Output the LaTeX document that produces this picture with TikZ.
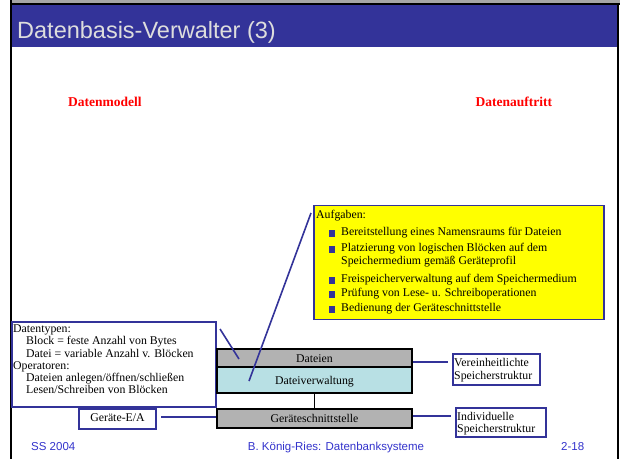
\documentclass[tikz,border=0pt]{standalone}
\usepackage{fontspec}
\setmainfont{Liberation Serif}
\newfontfamily\arialfont{Liberation Sans}

\definecolor{barblue}{RGB}{51,51,153}
\definecolor{titletext}{RGB}{221,221,221}
\definecolor{footblue}{RGB}{51,51,204}
\definecolor{layergray}{RGB}{178,178,178}
\definecolor{layercyan}{RGB}{184,224,228}
\definecolor{notefill}{RGB}{255,255,0}

\begin{document}
\begin{tikzpicture}[x=1pt,y=-1pt]
\tikzset{
  body/.style={font=\fontsize{11.8}{12}\selectfont, inner sep=0pt,
               text height=8pt, text depth=2.5pt},
  line/.style={body, anchor=west},
  bluebox/.style={draw=barblue, line width=1.8pt, rectangle, inner sep=0pt},
  layer/.style={body, draw=black, line width=1.8pt, rectangle,
                minimum width=195pt, text height=9.5pt, text depth=1pt},
  link/.style={draw=barblue, line width=1.6pt},
  bullet/.style={fill=barblue, minimum size=6.5pt, inner sep=0pt, rectangle},
  foot/.style={font=\arialfont\fontsize{11.5}{13}\selectfont, text=footblue,
               inner sep=0pt, text height=8.5pt, text depth=2pt},
  heading/.style={font=\bfseries\fontsize{13.5}{16}\selectfont, text=red,
                  inner sep=0pt, anchor=base west},
}
\useasboundingbox (0,0) rectangle (620,459);
\fill[white] (0,0) rectangle (620,459);

% slide frame and title bar
\fill[gray!70] (10,0) rectangle (620,2.5);
\fill[black] (10,2.5) rectangle (620,5);
\fill[black] (10,0) rectangle (12,459);
\fill[black] (617,5) rectangle (619,459);
\fill[barblue] (12,5) rectangle (617,47);
\node[anchor=base west, inner sep=0pt, text=titletext,
      font=\arialfont\fontsize{23.5}{28}\selectfont] (title) at (17,38)
      {Datenbasis-Verwalter (3)};

% column headings
\node[heading] (modell) at (68,106) {Datenmodell};
\node[heading] (auftritt) at (475.5,106) {Datenauftritt};

% task list
\node[bluebox, fill=notefill, minimum width=290pt, minimum height=114pt]
     (aufgaben) at (459,262.5) {};
\node[line] (auf0) at (316,216) {Aufgaben:};
\node[bullet] (b1) at (332,233.5) {};
\node[line] (auf1) at (341,233) {Bereitstellung eines Namensraums für Dateien};
\node[bullet] (b2) at (332,249.5) {};
\node[line] (auf2) at (341,249) {Platzierung von logischen Blöcken auf dem};
\node[line] (auf2b) at (341,262) {Speichermedium gemäß Geräteprofil};
\node[bullet] (b3) at (332,280.5) {};
\node[line] (auf3) at (341,280) {Freispeicherverwaltung auf dem Speichermedium};
\node[bullet] (b4) at (332,294.5) {};
\node[line] (auf4) at (341,294) {Prüfung von Lese- u. Schreiboperationen};
\node[bullet] (b5) at (332,309.5) {};
\node[line] (auf5) at (341,309) {Bedienung der Geräteschnittstelle};

% data model description
\node[bluebox, minimum width=204pt, minimum height=85pt] (typen) at (114,364.5) {};
\node[line] (t1) at (13,330) {Datentypen:};
\node[line] (t2) at (26,342) {Block = feste Anzahl von Bytes};
\node[line] (t3) at (26,355) {Datei = variable Anzahl v. Blöcken};
\node[line] (t4) at (13,367) {Operatoren:};
\node[line] (t5) at (26,379) {Dateien anlegen/öffnen/schließen};
\node[line] (t6) at (26,391) {Lesen/Schreiben von Blöcken};

\node[bluebox, body, minimum width=77pt, minimum height=20pt] (ea) at (117.5,419)
     {Geräte-E/A};

% layers
\node[layer, fill=layergray, minimum height=18pt] (dateien) at (314.5,358) {Dateien};
\node[layer, fill=layercyan, minimum height=26pt] (verwaltung) at (314.5,380)
     {Dateiverwaltung};
\node[layer, fill=layergray, minimum height=19pt] (schnitt) at (314.5,418.5)
     {Geräteschnittstelle};
\draw[black, line width=1.6pt] (verwaltung.south) -- (schnitt.north);

% data appearance
\node[bluebox, minimum width=87pt, minimum height=31pt] (vereinh) at (496.5,369.5) {};
\node[line] (v1) at (454,364) {Vereinheitlichte};
\node[line] (v2) at (454,377) {Speicherstruktur};
\node[bluebox, minimum width=90pt, minimum height=29pt] (indiv) at (501,422.5) {};
\node[line] (i1) at (457,418) {Individuelle};
\node[line] (i2) at (457,430) {Speicherstruktur};

% connectors
\coordinate (auftail) at (311,213);
\coordinate (verwtip) at (249,381);
\coordinate (typtail) at (220,329);
\coordinate (dateitip) at (239,359);
\coordinate (vin) at (448,362);
\coordinate (iin) at (451,416);
\coordinate (ein) at (161,417);
\draw[link] (auftail) -- (verwtip);
\draw[link] (typtail) -- (dateitip);
\draw[link] (dateien.east |- vin) -- (vin);
\draw[link] (schnitt.east |- iin) -- (iin);
\draw[link] (ein) -- (schnitt.west |- ein);

% footer
\node[foot, anchor=west] (ss) at (31,447) {SS 2004};
\node[foot] (autor) at (336,447) {B. König-Ries: Datenbanksysteme};
\node[foot, anchor=west] (seite) at (561,447) {2-18};
\end{tikzpicture}
\end{document}
